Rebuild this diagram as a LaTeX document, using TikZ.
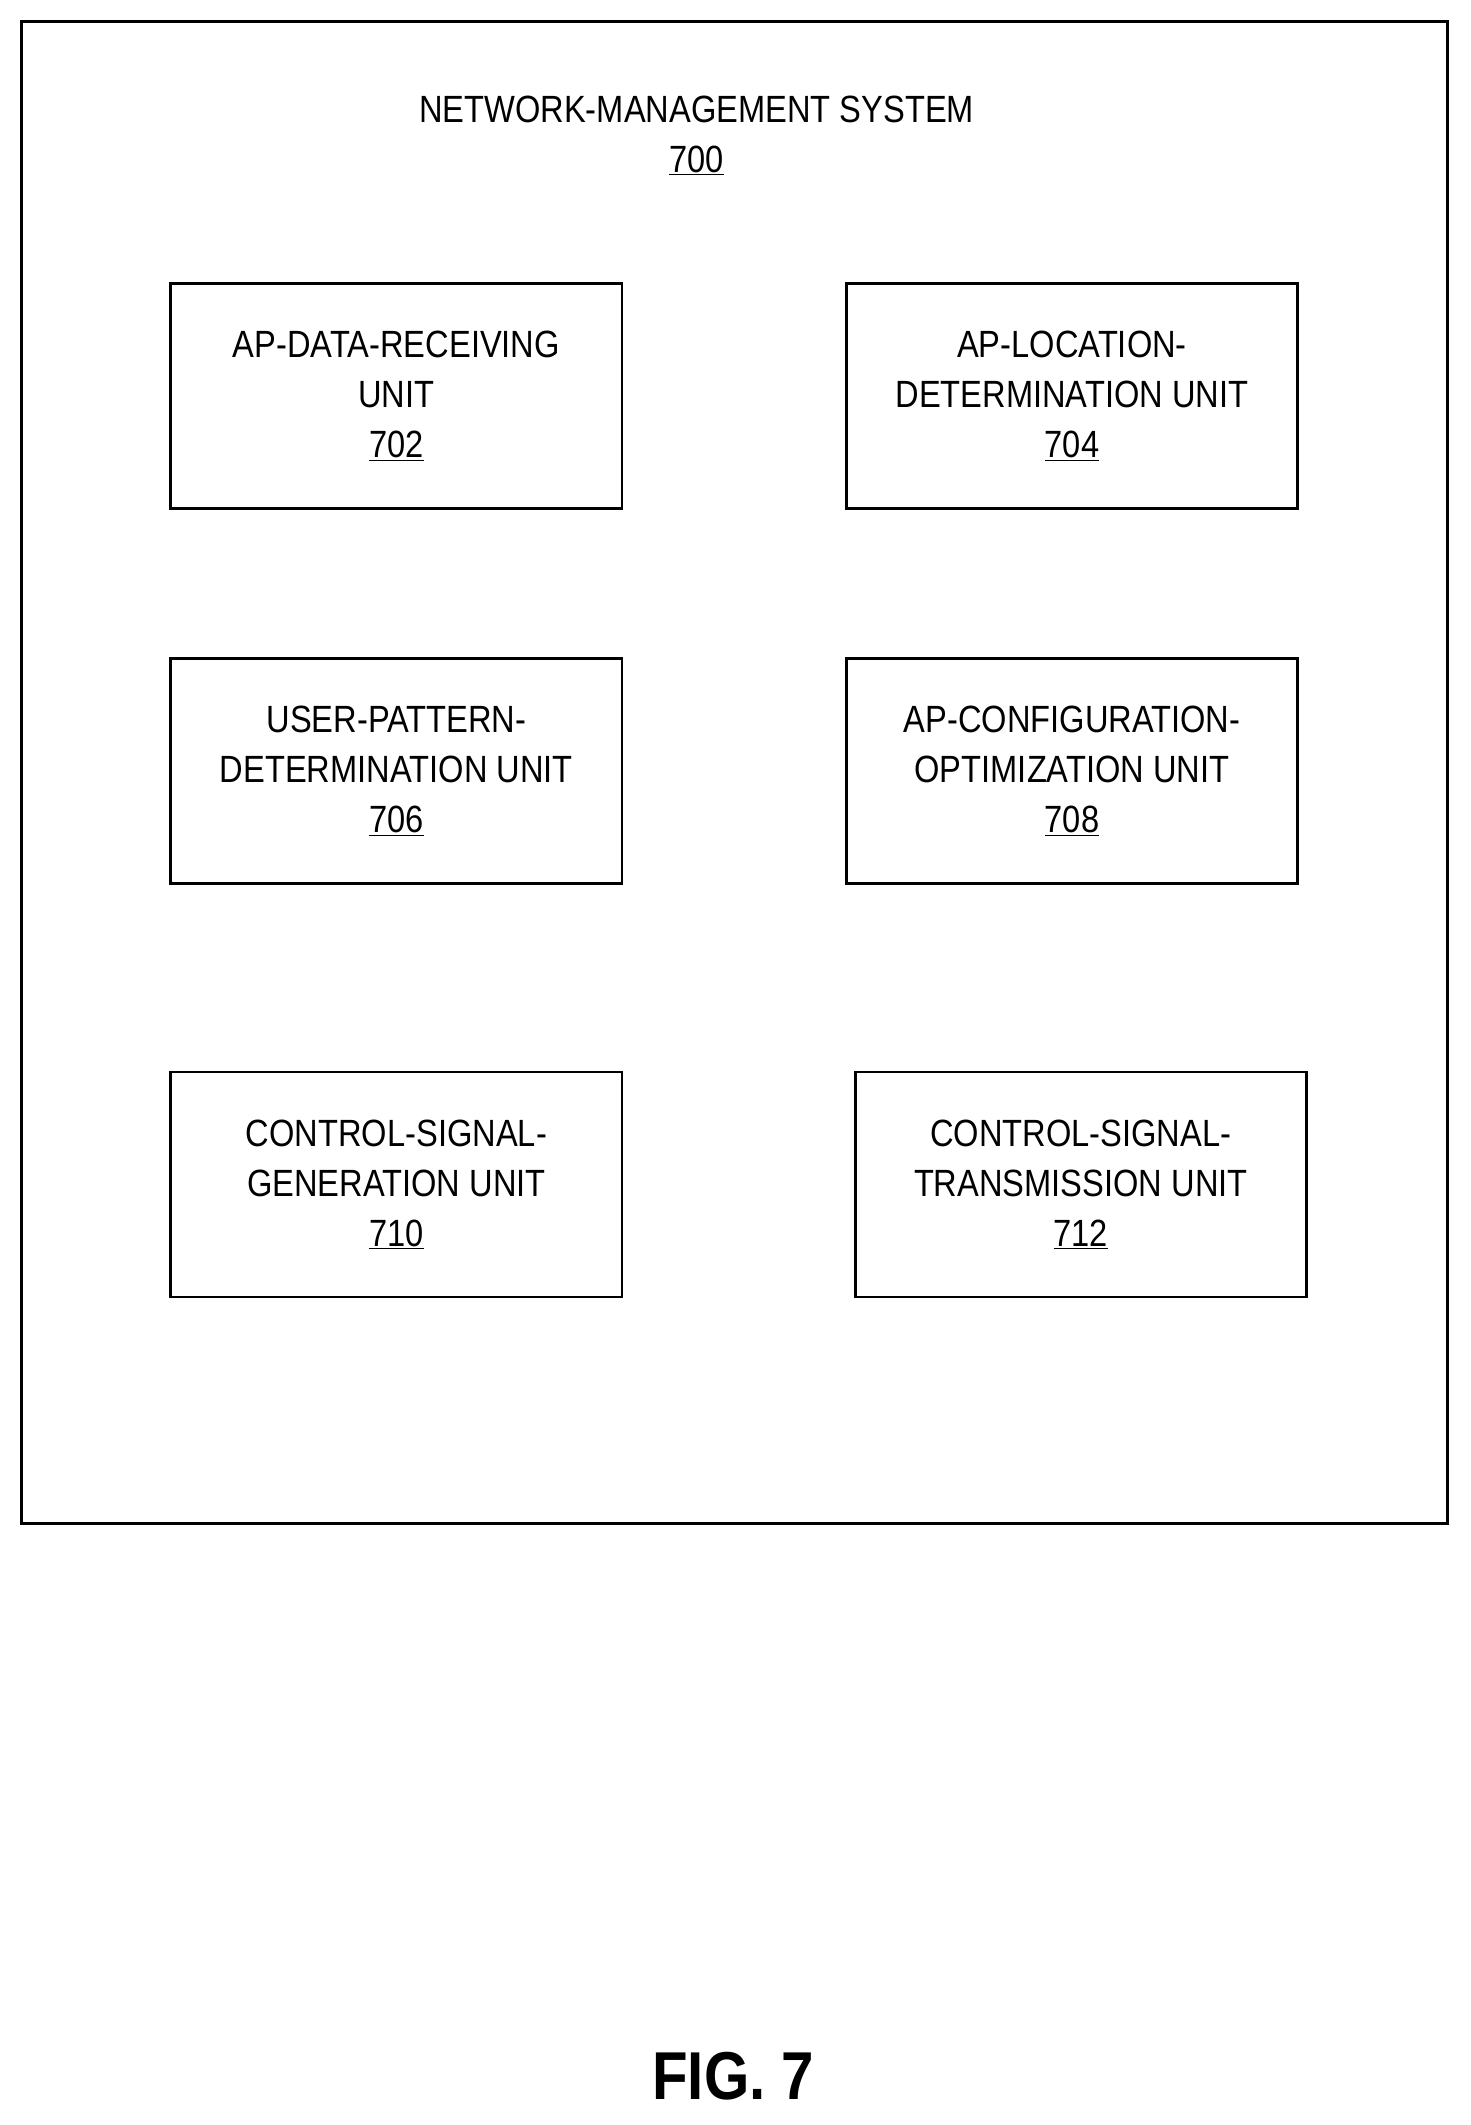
\documentclass[tikz,border=0pt]{standalone}
\usepackage{fontspec}
\setmainfont[FakeStretch=0.86]{Liberation Sans}
\begin{document}
\begin{tikzpicture}[x=1pt,y=-1pt,
  unitbox/.style={draw,line width=2pt,minimum width=333pt,minimum height=166pt,align=center,font=\fontsize{28}{37}\selectfont,inner sep=0pt},
  lbl/.style={align=center,font=\fontsize{28}{37}\selectfont}]
\useasboundingbox (0,0) rectangle (1085,1568);
\draw[line width=2pt] (16,16) rectangle (1068,1124);
\node[lbl] (title) at (514,100) {NETWORK-MANAGEMENT SYSTEM\\\underline{700}};
\node[unitbox] (u702) at (292.5,292) {AP-DATA-RECEIVING\\UNIT\\\underline{702}};
\node[unitbox] (u704) at (791,292) {AP-LOCATION-\\DETERMINATION UNIT\\\underline{704}};
\node[unitbox] (u706) at (292.5,569) {USER-PATTERN-\\DETERMINATION UNIT\\\underline{706}};
\node[unitbox] (u708) at (791,569) {AP-CONFIGURATION-\\OPTIMIZATION UNIT\\\underline{708}};
\node[unitbox] (u710) at (292.5,874) {CONTROL-SIGNAL-\\GENERATION UNIT\\\underline{710}};
\node[unitbox] (u712) at (797.5,874) {CONTROL-SIGNAL-\\TRANSMISSION UNIT\\\underline{712}};
\node[font=\fontsize{50}{56}\selectfont\bfseries] (fig) at (541,1532) {FIG. 7};
\end{tikzpicture}
\end{document}
